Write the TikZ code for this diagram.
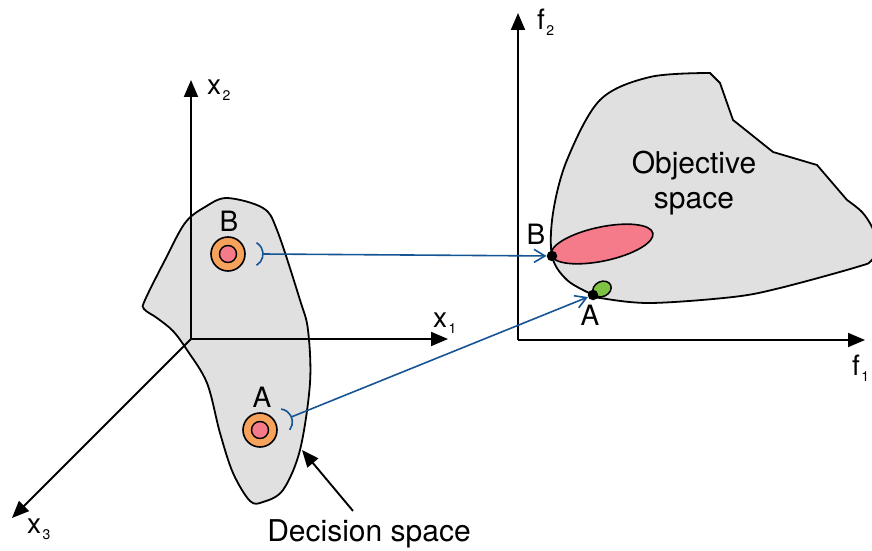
\documentclass[tikz,border=0pt]{standalone}
\usepackage{fontspec}
\setmainfont{TeX Gyre Heros}
\usepackage{xcolor}
\usetikzlibrary{arrows.meta,calc}

\definecolor{spacegray}{RGB}{224,224,224}
\definecolor{ptorange}{RGB}{246,162,91}
\definecolor{ptpink}{RGB}{245,122,138}
\definecolor{ptgreen}{RGB}{125,194,66}
\definecolor{mapblue}{RGB}{22,84,148}

\newcommand{\axlabel}[2]{#1\kern1.5pt\raisebox{-6pt}{\fontsize{14}{14}\selectfont #2}}

\begin{document}
\begin{tikzpicture}[x=1pt,y=1pt,
  axis/.style={line width=1.9pt,-{Triangle[length=17pt,width=14pt]}},
  region/.style={fill=spacegray,draw=black,line width=1.8pt},
  marker/.style={circle,draw=black,line width=1.6pt,fill=ptorange,minimum size=34pt,inner sep=0pt},
  inmark/.style={circle,draw=black,line width=1.4pt,fill=ptpink,minimum size=17pt,inner sep=0pt},
  dot/.style={circle,fill=black,minimum size=10.5pt,inner sep=0pt},
  link/.style={mapblue,line width=1.6pt},
  maparrow/.style={link,-{Straight Barb[length=11pt,width=13pt]}},
  lab/.style={font=\fontsize{28}{32}\selectfont,inner sep=0pt},
  axlab/.style={font=\fontsize{28}{30}\selectfont,anchor=base west,inner sep=0pt}]
\useasboundingbox (0,0) rectangle (872,550);

% decision space
\draw[region] plot[smooth cycle,tension=0.55] coordinates {(227,352) (263,342) (277,320)
  (300,250) (308,220) (310,167) (300,100) (283,60) (263,48) (250,49) (233,77) (220,117)
  (207,167) (187,200) (173,219) (157,232) (144,241) (145,250) (165,290) (185,327) (205,343)};

\coordinate (o) at (191,211);
\coordinate (x1end) at (448,211);
\coordinate (x2end) at (191,470);
\coordinate (x3end) at (12,32);
\draw[axis] (o) -- (x1end);
\draw[axis] (o) -- (x2end);
\draw[axis] (o) -- (x3end);
\node[axlab] (x1lab) at (433,223) {\axlabel{x}{1}};
\node[axlab] (x2lab) at (207,455) {\axlabel{x}{2}};
\node[axlab] (x3lab) at (27,17) {\axlabel{x}{3}};

% objective space
\draw[region] (710,477) -- (720,467) -- (733,430) -- (773,398) -- (817,385) -- (847,350)
  -- plot[smooth,tension=0.55] coordinates {(847,350) (862,338) (872,323) (877,307) (872,290)
  (857,283) (780,262) (733,253) (650,247) (600,252) (593,255) (567,270) (552,294) (553,337)
  (567,390) (600,450) (650,473) (710,477)} -- cycle;
\filldraw[fill=ptpink,draw=black,line width=1.6pt,rotate around={12:(602,306)}]
  (602,306) ellipse[x radius=52,y radius=17];
\filldraw[fill=ptgreen,draw=black,line width=1.5pt,rotate around={25:(602,261)}]
  (602,261) ellipse[x radius=9.5,y radius=7.5];

\coordinate (p) at (518,210);
\coordinate (f1end) at (865,210);
\coordinate (f2end) at (518,537);
\draw[axis] (p) -- (f1end);
\draw[axis] (p) -- (f2end);
\node[axlab] (f1lab) at (852,175) {\axlabel{f}{1}};
\node[axlab] (f2lab) at (537,520) {\axlabel{f}{2}};

\node[font=\fontsize{30}{35}\selectfont,align=center] (objlab) at (694,367) {Objective\\space};

% points
\node[dot] (dB) at (552,294) {};
\node[dot] (dA) at (593,255) {};
\node[lab] (lB2) at (536,316) {B};
\node[lab] (lA2) at (590,235) {A};

\node[marker] (mB) at (228,296) {};
\node[inmark] (iB) at (mB) {};
\node[marker] (mA) at (260,120) {};
\node[inmark] (iA) at (mA) {};
\node[lab] (lB) at (229,329) {B};
\node[lab] (lA) at (262,153) {A};

% mappings
\coordinate (cB) at ($(mB.center)+(0:22)$);
\coordinate (tB) at ($(cB)+(0:13)$);
\draw[link] ($(cB)+(-60:13)$) arc[start angle=-60,end angle=60,radius=13];
\draw[maparrow] (tB) -- (dB);
\coordinate (cA) at ($(mA.center)+(22.6:21)$);
\coordinate (tA) at ($(cA)+(22.6:13)$);
\draw[link] ($(cA)+(-37.4:13)$) arc[start angle=-37.4,end angle=82.6,radius=13];
\draw[maparrow] (tA) -- (dA);

% label of the decision space
\node[font=\fontsize{30}{34}\selectfont,anchor=base,inner sep=0pt] (declab) at (369,9) {Decision space};
\coordinate (dectip) at (302,100);
\draw[axis] ([xshift=-16pt,yshift=8pt]declab.north) -- (dectip);
\end{tikzpicture}
\end{document}
